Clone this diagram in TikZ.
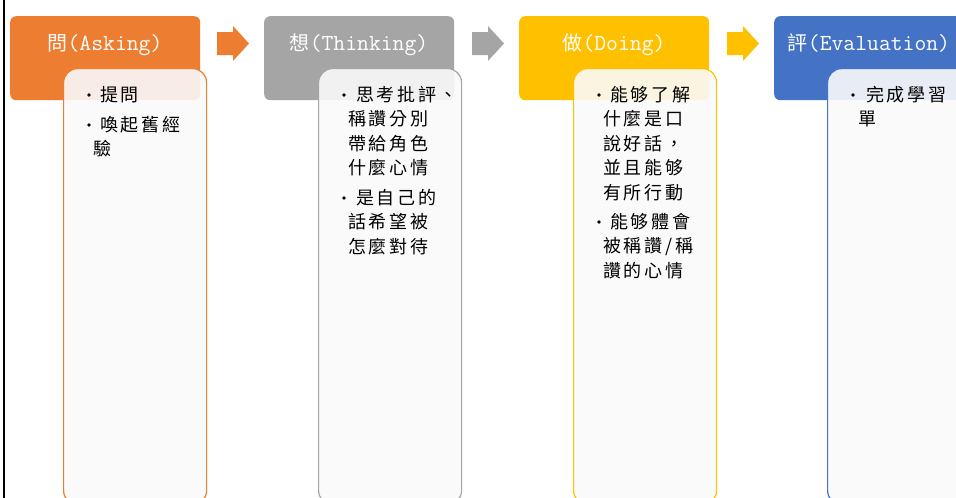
\documentclass[tikz,border=0pt]{standalone}
\usepackage{fontspec}
\setmainfont{Noto Sans CJK TC}
\newfontfamily\cjk{Noto Sans CJK TC}
\newfontfamily\cjkb[LetterSpace=15]{Noto Sans CJK TC}
\newfontfamily\lat{Latin Modern Mono}
\definecolor{cA}{HTML}{ED7D31}
\definecolor{cT}{HTML}{A5A5A5}
\definecolor{cD}{HTML}{FFC000}
\definecolor{cE}{HTML}{4472C4}
\newcommand{\hl}[1]{{\lat\fontsize{23}{24}\selectfont #1}}
\tikzset{
  headbox/.style={rectangle, rounded corners=6pt, minimum width=190pt, minimum height=84pt, anchor=north west, inner sep=0pt},
  headtxt/.style={text=white, font=\cjk\fontsize{20}{24}\selectfont, inner sep=0pt, anchor=base},
  innerbox/.style={rectangle, rounded corners=14pt, minimum width=143pt, minimum height=436pt, anchor=north west, inner sep=0pt, fill=white!98!black, fill opacity=0.9, draw opacity=1, line width=1.2pt},
  bodytxt/.style={font=\cjkb\fontsize{18}{20}\selectfont, text=black, inner sep=0pt, anchor=base west},
  bul/.style={circle, fill=black, inner sep=0pt, minimum size=3.6pt}
}
\begin{document}
\begin{tikzpicture}[x=1pt,y=-1pt]
\useasboundingbox (0,0) rectangle (956,498);
\clip (0,0) rectangle (956,498);
\fill[white] (0,0) rectangle (956,498);
\draw[line width=2.5pt, black] (4,-2) -- (4,500);

% headers
\node[headbox, fill=cA] (hA) at (10,16) {};
\node[headbox, fill=cT] (hT) at (264,16) {};
\node[headbox, fill=cD] (hD) at (519,16) {};
\node[headbox, fill=cE] (hE) at (774,16) {};

\node[headtxt] (tA) at (105,50) {問\hl{(Asking)}};
\node[headtxt] (tT) at (359,50) {想\hl{(Thinking)}};
\node[headtxt] (tD) at (614,50) {做\hl{(Doing)}};
\node[headtxt] (tE) at (869,50) {評\hl{(Evaluation)}};

% arrows
\fill[cA] (217,32) -- (233,32) -- (233,26) -- (249,43.5) -- (233,61) -- (233,55) -- (217,55) -- cycle;
\fill[cT] (472,32) -- (488,32) -- (488,26) -- (504,43.5) -- (488,61) -- (488,55) -- (472,55) -- cycle;
\fill[cD] (727,32) -- (743,32) -- (743,26) -- (759,43.5) -- (743,61) -- (743,55) -- (727,55) -- cycle;

% inner boxes
\node[innerbox, draw=cA] (bA) at (63,68) {};
\node[innerbox, draw=cT] (bT) at (318,68) {};
\node[innerbox, draw=cD] (bD) at (573,68) {};
\node[innerbox, draw=cE] (bE) at (827,68) {};

% Asking text
\node[bul] (pA1) at (89,95) {};
\node[bodytxt] (a1) at (100,101) {提問};
\node[bul] (pA2) at (89,125) {};
\node[bodytxt] (a2) at (100,131) {喚起舊經};
\node[bodytxt] (a3) at (93,155) {驗};

% Thinking text
\node[bul] (pT1) at (344,95) {};
\node[bodytxt] (t1) at (356,101) {思考批評、};
\node[bodytxt] (t2) at (348,125.5) {稱讚分別};
\node[bodytxt] (t3) at (348,150) {帶給角色};
\node[bodytxt] (t4) at (348,174.5) {什麼心情};
\node[bul] (pT2) at (344,198) {};
\node[bodytxt] (t5) at (356,204) {是自己的};
\node[bodytxt] (t6) at (348,228.5) {話希望被};
\node[bodytxt] (t7) at (348,253) {怎麼對待};

% Doing text
\node[bul] (pD1) at (599,95) {};
\node[bodytxt] (d1) at (610,101) {能够了解};
\node[bodytxt] (d2) at (603,125.5) {什麼是口};
\node[bodytxt] (d3) at (603,150) {說好話，};
\node[bodytxt] (d4) at (603,174.5) {並且能够};
\node[bodytxt] (d5) at (603,199) {有所行動};
\node[bul] (pD2) at (599,222) {};
\node[bodytxt] (d6) at (610,228) {能够體會};
\node[bodytxt] (d7) at (603,252.5) {被稱讚/稱};
\node[bodytxt] (d8) at (603,277) {讚的心情};

% Evaluation text
\node[bul] (pE1) at (853,95) {};
\node[bodytxt] (e1) at (866,101) {完成學習};
\node[bodytxt] (e2) at (858,125.5) {單};
\end{tikzpicture}
\end{document}
